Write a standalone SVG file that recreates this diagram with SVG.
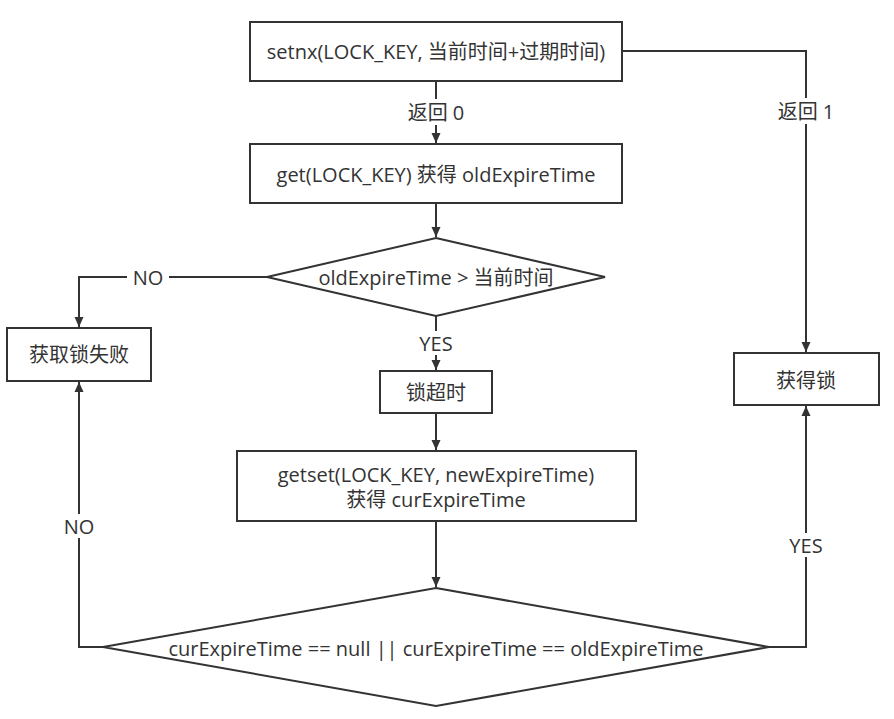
<svg xmlns="http://www.w3.org/2000/svg" width="894" height="719" viewBox="0 0 894 719">
<defs>
<style>
.n{fill:#fff;stroke:#333;stroke-width:2}
.c{fill:none;stroke:#333;stroke-width:2}
text{font-family:"Open Sans","Noto Sans CJK SC",sans-serif;font-size:20px;fill:#333;text-anchor:middle;dominant-baseline:central}
.lb{fill:#fff;stroke:none}
</style>
<marker id="a" viewBox="0 0 10 10" refX="10" refY="5" markerWidth="10" markerHeight="10" markerUnits="userSpaceOnUse" orient="auto">
<path d="M0,0.5 L10,5 L0,9.5 Z" fill="#333"/>
</marker>
</defs>
<rect width="894" height="719" fill="#fff"/>
<g id="connectors">
<path class="c" d="M436,81 V143" marker-end="url(#a)"/>
<path class="c" d="M622,51 H806 V352" marker-end="url(#a)"/>
<path class="c" d="M436,203 V237" marker-end="url(#a)"/>
<path class="c" d="M267,277 H79 V327" marker-end="url(#a)"/>
<path class="c" d="M436,316 V370" marker-end="url(#a)"/>
<path class="c" d="M436,413 V450" marker-end="url(#a)"/>
<path class="c" d="M436,521 V587" marker-end="url(#a)"/>
<path class="c" d="M103,647 H79 V382" marker-end="url(#a)"/>
<path class="c" d="M769,647 H806 V406" marker-end="url(#a)"/>
<rect class="lb" x="400" y="99" width="72" height="26"/>
<text x="436" y="112">返回 0</text>
<rect class="lb" x="770" y="98" width="72" height="26"/>
<text x="806" y="111">返回 1</text>
<rect class="lb" x="127" y="265" width="42" height="24"/>
<text x="148" y="277">NO</text>
<rect class="lb" x="413" y="331" width="46" height="24"/>
<text x="436" y="343">YES</text>
<rect class="lb" x="59" y="514" width="40" height="24"/>
<text x="79" y="526">NO</text>
<rect class="lb" x="783" y="533" width="46" height="24"/>
<text x="806" y="545">YES</text>
</g>
<g id="setnx">
<rect class="n" x="250" y="22" width="372" height="59"/>
<text x="436" y="51">setnx(LOCK_KEY, 当前时间+过期时间)</text>
</g>
<g id="get">
<rect class="n" x="250" y="144" width="372" height="59"/>
<text x="436" y="174">get(LOCK_KEY) 获得 oldExpireTime</text>
</g>
<g id="check-expire">
<polygon class="n" points="436,238 605,277 436,316 267,277"/>
<text x="436" y="277">oldExpireTime &gt; 当前时间</text>
</g>
<g id="fail">
<rect class="n" x="7" y="328" width="144" height="53"/>
<text x="79" y="354">获取锁失败</text>
</g>
<g id="timeout">
<rect class="n" x="380" y="371" width="112" height="42"/>
<text x="436" y="392">锁超时</text>
</g>
<g id="getset">
<rect class="n" x="237" y="451" width="399" height="70"/>
<text x="436" y="474">getset(LOCK_KEY, newExpireTime)</text>
<text x="436" y="499">获得 curExpireTime</text>
</g>
<g id="check-cur">
<polygon class="n" points="436,588 769,647 436,706 103,647"/>
<text x="436" y="648">curExpireTime == null || curExpireTime == oldExpireTime</text>
</g>
<g id="acquired">
<rect class="n" x="734" y="353" width="145" height="52"/>
<text x="806" y="380">获得锁</text>
</g>
</svg>
